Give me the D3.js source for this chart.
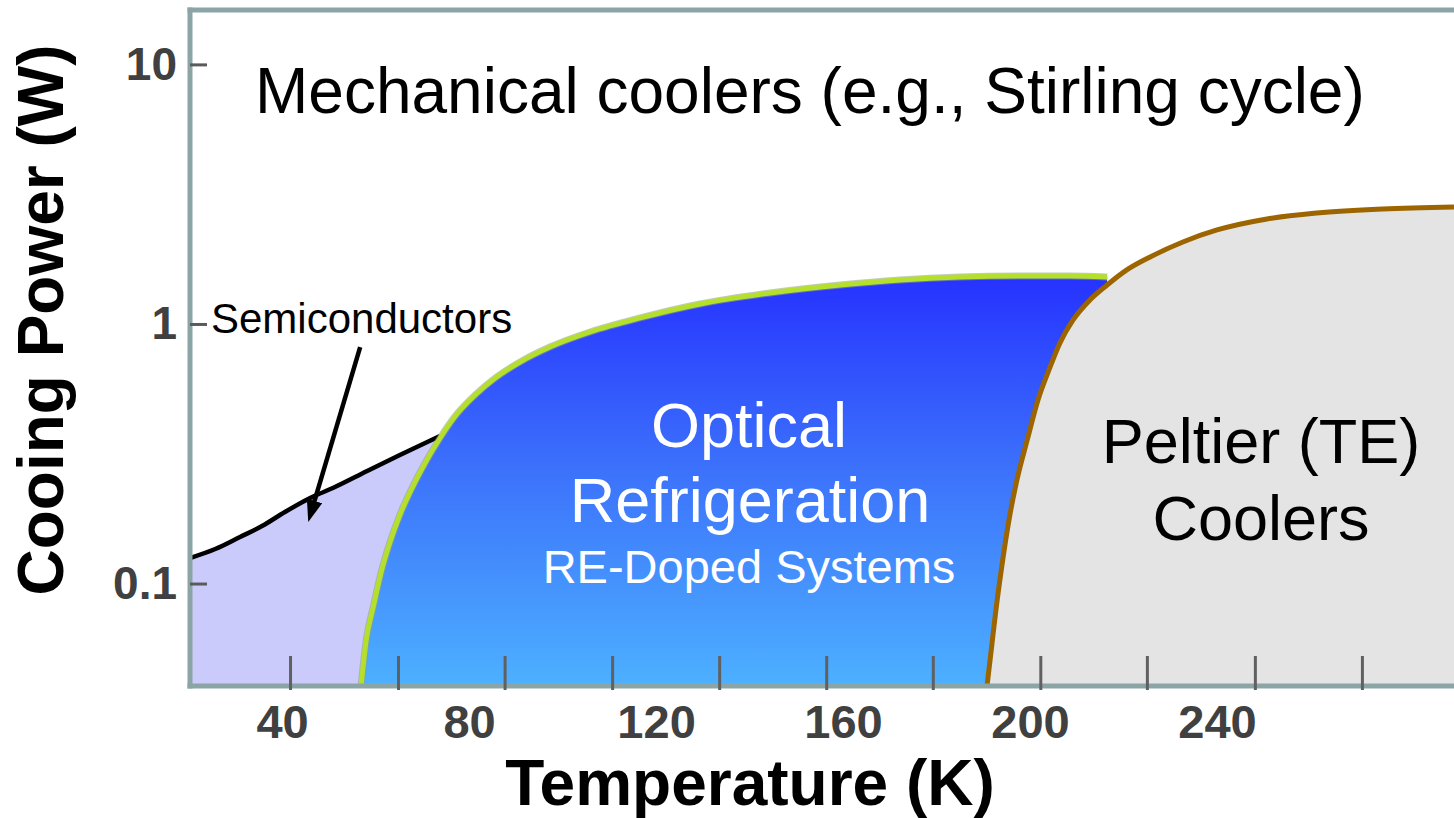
<!DOCTYPE html>
<html>
<head>
<meta charset="utf-8">
<script src="https://cdn.jsdelivr.net/npm/d3@7"></script>
<style>
  html, body { margin: 0; padding: 0; background: #ffffff; }
  svg { display: block; font-family: "Liberation Sans", Arial, Helvetica, sans-serif; }
</style>
</head>
<body>
<svg id="chart" width="1454" height="818"></svg>
<script>
// ---- Boundary curves: temperature (K) vs cooling power (W) ----
const semiconductorT = [20.3, 25.7, 31.0, 35.7, 40.6, 46.0, 51.3, 58.2, 65.2, 73.8];
const semiconductorP = [0.1254, 0.1358, 0.1511, 0.1665, 0.1886, 0.2136, 0.2354, 0.2714, 0.3128, 0.3701];

const opticalT = [56.9, 58.0, 59.5, 61.2, 63.1, 65.2, 67.8, 70.6, 73.8, 77.4, 81.3, 85.6, 90.9, 97.3, 105.9,
                  116.6, 129.4, 144.4, 159.4, 172.2, 185.0, 197.9, 208.6, 216.5];
const opticalP = [0.0403, 0.0606, 0.0812, 0.1107, 0.1445, 0.1837, 0.2333, 0.2913, 0.3636, 0.4498, 0.5326, 0.6193, 0.7137, 0.8153, 0.9315,
                  1.055, 1.194, 1.317, 1.413, 1.477, 1.517, 1.531, 1.531, 1.517];

const peltierT = [190.8, 191.7, 192.7, 194.0, 195.5, 197.2, 199.4, 201.7, 204.3, 206.4, 209.2, 212.8, 216.5,
                  220.7, 225.7, 232.7, 240.0, 250.7, 261.4, 275.5, 290.7];
const peltierP = [0.0403, 0.0554, 0.0790, 0.1178, 0.1757, 0.2505, 0.3573, 0.5095, 0.6830, 0.8448, 1.036, 1.237, 1.413,
                  1.615, 1.812, 2.070, 2.302, 2.539, 2.677, 2.775, 2.824];

// ---- Axis ticks ----
const xLabelTicks = [40, 80, 120, 160, 200, 240];
const xMarkTicks = [41.7, 64.8, 87.6, 110.6, 133.5, 156.4, 179.2, 202.2, 225.0, 248.1, 271.0];
const yTicks = [0.1, 1, 10];

// Arrow pointing from the "Semiconductors" label into its region (T, P)
const arrowT = [56.7, 45.6];
const arrowP = [0.815, 0.1726];

const zip = (ts, ps) => ts.map((t, i) => ({ t, p: ps[i] }));
const semiconductor = zip(semiconductorT, semiconductorP);
const optical = zip(opticalT, opticalP);
const peltier = zip(peltierT, peltierP);

const svg = d3.select("#chart");
const plot = { left: 190, right: 1454, top: 10, bottom: 686 };

const x = d3.scaleLinear().domain([20.3, 290.7]).range([plot.left, plot.right]);
const y = d3.scaleLog().domain([0.0403, 16.2]).range([plot.bottom, plot.top]);

const defs = svg.append("defs");
defs.append("clipPath").attr("id", "plotClip")
  .append("rect")
  .attr("x", plot.left).attr("y", plot.top)
  .attr("width", plot.right - plot.left).attr("height", plot.bottom - plot.top);

const grad = defs.append("linearGradient")
  .attr("id", "opticalFill")
  .attr("gradientUnits", "userSpaceOnUse")
  .attr("x1", 0).attr("x2", 0)
  .attr("y1", y(1.53)).attr("y2", plot.bottom);
grad.append("stop").attr("offset", "0%").attr("stop-color", "#2632ff");
grad.append("stop").attr("offset", "45%").attr("stop-color", "#3b6ffb");
grad.append("stop").attr("offset", "100%").attr("stop-color", "#4db0ff");

defs.append("marker")
  .attr("id", "arrowHead")
  .attr("markerUnits", "userSpaceOnUse")
  .attr("viewBox", "0 0 22 16")
  .attr("markerWidth", 22).attr("markerHeight", 16)
  .attr("refX", 13).attr("refY", 8)
  .attr("orient", "auto")
  .append("path").attr("d", "M0,0 L22,8 L0,16 Z").attr("fill", "#000");

const curve = d3.curveMonotoneX;
const base = y.range()[0];

const area = d3.area().x(d => x(d.t)).y0(base).y1(d => y(d.p)).curve(curve);
const line = d3.line().x(d => x(d.t)).y(d => y(d.p)).curve(curve);

const g = svg.append("g").attr("clip-path", "url(#plotClip)");

// Semiconductor region
g.append("path").datum(semiconductor).attr("d", area).attr("fill", "#cbcbfb");
g.append("path").datum(semiconductor).attr("d", line)
  .attr("fill", "none").attr("stroke", "#000").attr("stroke-width", 4.5)
  .attr("stroke-linejoin", "round");

// Optical refrigeration region
g.append("path").datum(optical).attr("d", area).attr("fill", "url(#opticalFill)");
g.append("path").datum(optical).attr("d", line)
  .attr("fill", "none").attr("stroke", "#8f9f86").attr("stroke-width", 7).attr("stroke-opacity", 0.55);
g.append("path").datum(optical).attr("d", line)
  .attr("fill", "none").attr("stroke", "#b4e02c").attr("stroke-width", 5);

// Peltier region
g.append("path").datum(peltier).attr("d", area).attr("fill", "#e4e4e4");
g.append("path").datum(peltier).attr("d", line)
  .attr("fill", "none").attr("stroke", "#9c6500").attr("stroke-width", 5);

// Frame
const frameColor = "#8ba5a7";
svg.append("line").attr("x1", plot.left).attr("x2", plot.left).attr("y1", plot.top - 2.5).attr("y2", plot.bottom + 2.5)
  .attr("stroke", frameColor).attr("stroke-width", 5);
svg.append("line").attr("x1", plot.left - 2.5).attr("x2", plot.right).attr("y1", plot.top).attr("y2", plot.top)
  .attr("stroke", frameColor).attr("stroke-width", 5);
svg.append("line").attr("x1", plot.left - 2.5).attr("x2", plot.right).attr("y1", plot.bottom).attr("y2", plot.bottom)
  .attr("stroke", frameColor).attr("stroke-width", 5);

// Bottom tick marks
const xMarks = svg.append("g").attr("transform", `translate(0,${plot.bottom + 4})`)
  .call(d3.axisBottom(x).tickValues(xMarkTicks).tickSizeInner(-34).tickSizeOuter(0).tickFormat(""));
xMarks.select(".domain").remove();
xMarks.selectAll(".tick line").attr("stroke", "#606060").attr("stroke-width", 3);

// Bottom tick labels
const xLabels = svg.append("g").attr("transform", `translate(0,${plot.bottom})`)
  .call(d3.axisBottom(x).tickValues(xLabelTicks).tickSize(0).tickPadding(19));
xLabels.select(".domain").remove();
xLabels.selectAll(".tick line").remove();
xLabels.selectAll("text")
  .attr("font-family", "'Liberation Sans', Arial, sans-serif")
  .attr("font-size", 47).attr("font-weight", "bold").attr("fill", "#404040");

// Left axis ticks and labels
const yAxis = svg.append("g").attr("transform", `translate(${plot.left},0)`)
  .call(d3.axisLeft(y).tickValues(yTicks).tickFormat(d => String(d))
    .tickSizeInner(-17).tickSizeOuter(0).tickPadding(13));
yAxis.select(".domain").remove();
yAxis.selectAll(".tick line").attr("stroke", "#5a5a5a").attr("stroke-width", 3);
yAxis.selectAll("text")
  .attr("font-family", "'Liberation Sans', Arial, sans-serif")
  .attr("font-size", 46).attr("font-weight", "bold").attr("fill", "#404040");

// Axis titles
svg.append("text")
  .attr("x", 750).attr("y", 805)
  .attr("text-anchor", "middle")
  .attr("font-size", 64).attr("font-weight", "bold").attr("fill", "#000")
  .text("Temperature (K)");

svg.append("text")
  .attr("transform", "translate(63,320) rotate(-90)")
  .attr("text-anchor", "middle")
  .attr("font-size", 64).attr("font-weight", "bold").attr("fill", "#000")
  .text("Cooing Power (W)");

// Region labels
svg.append("text")
  .attr("x", 255).attr("y", 113)
  .attr("font-size", 64).attr("fill", "#000")
  .text("Mechanical coolers (e.g., Stirling cycle)");

svg.append("text")
  .attr("x", 211).attr("y", 333)
  .attr("font-size", 42).attr("fill", "#000")
  .text("Semiconductors");

const optLabel = svg.append("g").attr("fill", "#ffffff").attr("text-anchor", "middle");
optLabel.append("text").attr("x", 749).attr("y", 447).attr("font-size", 63).text("Optical");
optLabel.append("text").attr("x", 750).attr("y", 522).attr("font-size", 63).text("Refrigeration");
optLabel.append("text").attr("x", 749).attr("y", 583).attr("font-size", 47).text("RE-Doped Systems");

const peltLabel = svg.append("g").attr("fill", "#000").attr("text-anchor", "middle");
peltLabel.append("text").attr("x", 1261).attr("y", 463).attr("font-size", 63).text("Peltier (TE)");
peltLabel.append("text").attr("x", 1261).attr("y", 540).attr("font-size", 63).text("Coolers");

// Arrow: stop the shaft short of the tip so the head carries the point
const ax0 = x(arrowT[0]), ay0 = y(arrowP[0]);
const ax1 = x(arrowT[1]), ay1 = y(arrowP[1]);
const len = Math.hypot(ax1 - ax0, ay1 - ay0);
const ux = (ax1 - ax0) / len, uy = (ay1 - ay0) / len;
svg.append("line")
  .attr("x1", ax0).attr("y1", ay0)
  .attr("x2", ax1 - 9 * ux).attr("y2", ay1 - 9 * uy)
  .attr("stroke", "#000").attr("stroke-width", 4.5)
  .attr("marker-end", "url(#arrowHead)");
</script>
</body>
</html>
